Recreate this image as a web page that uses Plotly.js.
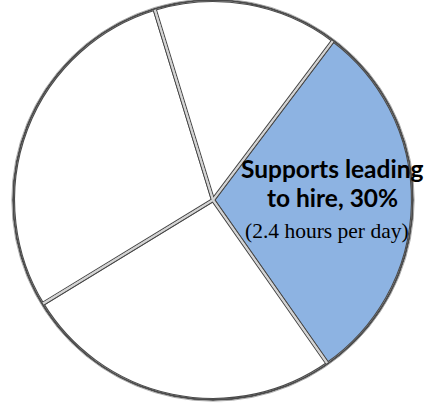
<!DOCTYPE html>
<html>
<head>
<meta charset="utf-8">
<script src="https://cdn.plot.ly/plotly-3.0.1.min.js"></script>
<style>
  html, body { margin: 0; padding: 0; background: #fff; }
  #chart { width: 430px; height: 404px; }
</style>
</head>
<body>
<div id="chart"></div>
<script>
// Share of the working day, clockwise from the highlighted slice
const categories = ['Supports leading to hire', 'Activity B', 'Activity C', 'Activity D'];
const shares = [30, 26, 29, 15];
const sliceColors = ['#8db3e2', '#ffffff', '#ffffff', '#ffffff'];
const hoursPerDay = [2.4, null, null, null];

// Pie geometry (pixels in a 430x404 figure with zero margins)
const W = 430, H = 404;
const cx = 213, cy = 200, R = 200;
const dom = {
  x: [(cx - R) / W, (cx + R) / W],
  y: [(H - cy - R) / H, (H - cy + R) / H]
};

function pieTrace(fills, lineColor, lineWidth) {
  return {
    type: 'pie',
    labels: categories,
    values: shares,
    sort: false,
    direction: 'clockwise',
    rotation: 37,
    domain: dom,
    textinfo: 'none',
    hoverinfo: 'skip',
    showlegend: false,
    marker: { colors: fills, line: { color: lineColor, width: lineWidth } }
  };
}

// Filled slices with a wide dark stroke, then a hollow copy with a thin light
// stroke on top, giving each seam a dark / light / dark double line.
const hollow = categories.map(() => 'rgba(0,0,0,0)');
const data = [
  pieTrace(sliceColors, '#4a4a4a', 4.2),
  pieTrace(hollow, '#d4d4d4', 2.0)
];

// Ring outline helper: circle of radius r around the pie centre (paper coords)
function ring(r, color, width) {
  return {
    type: 'circle', xref: 'paper', yref: 'paper', layer: 'above',
    x0: (cx - r) / W, x1: (cx + r) / W,
    y0: (H - cy - r) / H, y1: (H - cy + r) / H,
    line: { color: color, width: width }, fillcolor: 'rgba(0,0,0,0)'
  };
}

const words = categories[0].split(' ');
const line1 = words.slice(0, 2).join(' ');
const line2 = words.slice(2).join(' ') + ', ' + shares[0] + '%';
const line3 = '(' + hoursPerDay[0] + ' hours per day)';

const boldFont = { family: 'Lato, "Open Sans", sans-serif', size: 24.5, color: '#000', weight: 'bold' };
const serifFont = { family: '"Liberation Serif", "DejaVu Serif", serif', size: 21.5, color: '#000' };

const layout = {
  width: W, height: H,
  margin: { l: 0, r: 0, t: 0, b: 0 },
  paper_bgcolor: '#ffffff',
  showlegend: false,
  shapes: [
    ring(R, '#4a4a4a', 2),          // solid outer edge
    ring(R + 2, '#ffffff', 2.2),    // trims the outer stroke to a thin line
    ring(R + 1.2, '#9a9a9a', 0.8)   // soft rim just outside the edge
  ],
  annotations: [
    { text: '<b>' + line1 + '</b>', x: 332 / W, y: 1 - 169 / H, xref: 'paper', yref: 'paper',
      xanchor: 'center', yanchor: 'middle', showarrow: false, font: boldFont },
    { text: '<b>' + line2 + '</b>', x: 332.5 / W, y: 1 - 197 / H, xref: 'paper', yref: 'paper',
      xanchor: 'center', yanchor: 'middle', showarrow: false, font: boldFont },
    { text: line3, x: 326.5 / W, y: 1 - 231 / H, xref: 'paper', yref: 'paper',
      xanchor: 'center', yanchor: 'middle', showarrow: false, font: serifFont }
  ]
};

Plotly.newPlot('chart', data, layout, { displayModeBar: false, staticPlot: true });
</script>
</body>
</html>
